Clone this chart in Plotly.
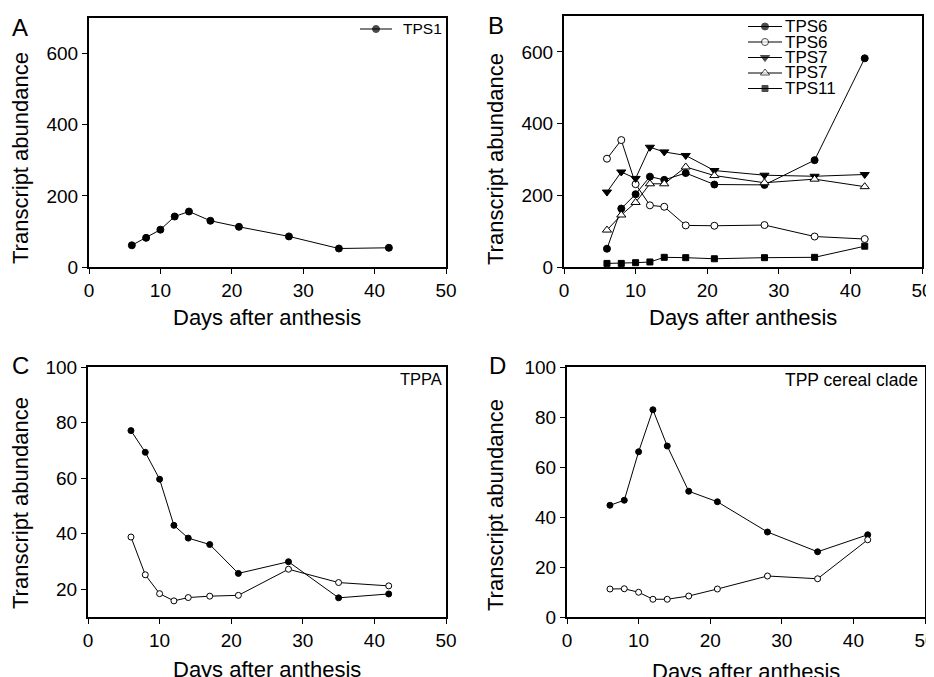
import plotly.graph_objects as go

W, H = 934, 677          # browser window
PAGE_OFFSET = 8          # the page's default body margin
FW, FH = W - PAGE_OFFSET, H - PAGE_OFFSET
FONT = 'Liberation Sans, Arial, sans-serif'

# ── Data ──────────────────────────────────────────────────────────────────────
DAYS = [6, 8, 10, 12, 14, 17, 21, 28, 35, 42]

TPS1        = [61, 82, 105, 142, 156, 130, 113, 86, 52, 54]
TPS6_FILLED = [51, 163, 203, 252, 243, 262, 230, 229, 298, 582]
TPS6_OPEN   = [302, 354, 231, 172, 168, 116, 115, 117, 85, 78]
TPS7_FILLED = [209, 265, 247, 334, 321, 311, 269, 256, 253, 258]
TPS7_OPEN   = [103, 145, 180, 232, 232, 279, 255, 235, 245, 224]
TPS11       = [10, 10, 12, 14, 27, 26, 23, 26, 27, 58]

TPPA_FILLED = [77.1, 69.3, 59.6, 43.0, 38.4, 36.1, 25.7, 29.9, 16.9, 18.3]
TPPA_OPEN   = [38.8, 25.2, 18.4, 15.8, 17.0, 17.5, 17.8, 27.2, 22.4, 21.2]

CEREAL_FILLED = [44.7, 46.7, 66.1, 82.9, 68.4, 50.3, 46.1, 34.0, 26.1, 32.9]
CEREAL_OPEN   = [11.2, 11.3, 9.9, 7.1, 7.1, 8.4, 11.2, 16.4, 15.3, 30.9]

X_TICKS    = [0, 10, 20, 30, 40, 50]
Y_TICKS_AB = [0, 200, 400, 600]
Y_TICKS_C  = [20, 40, 60, 80, 100]
Y_TICKS_D  = [0, 20, 40, 60, 80, 100]

LEGEND_A = ['TPS1']
LEGEND_B = ['TPS6', 'TPS6', 'TPS7', 'TPS7', 'TPS11']

# panel boxes in window pixels: (left, right, top, bottom)
BOXES = {
    'A': (89, 446, 18, 267),
    'B': (564, 922, 16, 267),
    'C': (88, 446, 367, 617),
    'D': (567, 925, 367, 617),
}

# legend sample boxes in window pixels:
# (line left, line right, first row y, row step, text x)
LEG_BOX_A = (360, 392, 29, 16, 402)
LEG_BOX_B = (748, 782, 26.5, 15.5, 784)


def px_x(x):
    return (x - PAGE_OFFSET) / FW


def px_y(y):
    return 1 - (y - PAGE_OFFSET) / FH


def _marker(symbol, filled, size=7):
    return dict(symbol=symbol, size=size,
                color='black' if filled else 'white',
                line=dict(color='black', width=1))


def _trace(y, axis, symbol, filled, size=7):
    return go.Scatter(
        x=DAYS, y=y, mode='lines+markers',
        xaxis='x' + axis, yaxis='y' + axis,
        line=dict(color='black', width=1),
        marker=_marker(symbol, filled, size),
        showlegend=False, hoverinfo='x+y',
    )


def _legend_sample(row, axis, symbol, filled, size):
    """One legend row: short line with the marker in its middle."""
    return go.Scatter(
        x=[0, 1, 2], y=[row] * 3, mode='lines+markers',
        xaxis='x' + axis, yaxis='y' + axis,
        line=dict(color='black', width=1),
        marker=dict(_marker(symbol, filled, size), size=[0, size, 0]),
        cliponaxis=False, showlegend=False, hoverinfo='skip',
    )


def _axes(box, yrange, yticks):
    l, r, t, b = box
    common = dict(showline=True, mirror=True, linecolor='black', linewidth=2,
                  ticks='outside', ticklen=5, tickwidth=1, tickcolor='black',
                  showgrid=False, zeroline=False, automargin=False,
                  ticklabeloverflow='allow',
                  tickfont=dict(family=FONT, size=19, color='black'))
    xa = dict(common, domain=[px_x(l), px_x(r)], range=[0, 50],
              tickvals=X_TICKS)
    ya = dict(common, domain=[px_y(b), px_y(t)], range=yrange,
              tickvals=yticks)
    return xa, ya


def _legend_axes(leg_box, n_rows):
    l, r, y0, step, _ = leg_box
    hidden = dict(visible=False, fixedrange=True, showgrid=False, zeroline=False)
    xa = dict(hidden, domain=[px_x(l), px_x(r)], range=[0, 2])
    ya = dict(hidden, domain=[px_y(y0 + (n_rows - 0.5) * step),
                              px_y(y0 - 0.5 * step)],
              range=[n_rows - 0.5, -0.5])
    return xa, ya


fig = go.Figure()

# A
fig.add_trace(_trace(TPS1, '', 'circle', True))
# B
fig.add_trace(_trace(TPS6_FILLED, '2', 'circle', True))
fig.add_trace(_trace(TPS6_OPEN, '2', 'circle', False))
fig.add_trace(_trace(TPS7_FILLED, '2', 'triangle-down', True, size=8))
fig.add_trace(_trace(TPS7_OPEN, '2', 'triangle-up', False, size=8))
fig.add_trace(_trace(TPS11, '2', 'square', True, size=6))
# C
fig.add_trace(_trace(TPPA_FILLED, '3', 'circle', True, size=6))
fig.add_trace(_trace(TPPA_OPEN, '3', 'circle', False, size=6))
# D
fig.add_trace(_trace(CEREAL_FILLED, '4', 'circle', True, size=6))
fig.add_trace(_trace(CEREAL_OPEN, '4', 'circle', False, size=6))

# legend samples
fig.add_trace(_legend_sample(0, '5', 'circle', True, 7))
b_styles = [('circle', True, 7), ('circle', False, 7),
            ('triangle-down', True, 8), ('triangle-up', False, 8),
            ('square', True, 6)]
for i, (sym, filled, size) in enumerate(b_styles):
    fig.add_trace(_legend_sample(i, '6', sym, filled, size))

xa1, ya1 = _axes(BOXES['A'], [0, 700], Y_TICKS_AB)
xa2, ya2 = _axes(BOXES['B'], [0, 700], Y_TICKS_AB)
xa3, ya3 = _axes(BOXES['C'], [10, 100], Y_TICKS_C)
xa4, ya4 = _axes(BOXES['D'], [0, 100], Y_TICKS_D)
xa5, ya5 = _legend_axes(LEG_BOX_A, len(LEGEND_A))
xa6, ya6 = _legend_axes(LEG_BOX_B, len(LEGEND_B))
xa1['anchor'], ya1['anchor'] = 'y', 'x'
xa2['anchor'], ya2['anchor'] = 'y2', 'x2'
xa3['anchor'], ya3['anchor'] = 'y3', 'x3'
xa4['anchor'], ya4['anchor'] = 'y4', 'x4'
xa5['anchor'], ya5['anchor'] = 'y5', 'x5'
xa6['anchor'], ya6['anchor'] = 'y6', 'x6'

annotations = []


def _text(x, y, text, size, xanchor='center', yanchor='middle', angle=0):
    annotations.append(dict(
        x=px_x(x), y=px_y(y), xref='paper', yref='paper', text=text,
        showarrow=False, xanchor=xanchor, yanchor=yanchor, textangle=angle,
        font=dict(family=FONT, size=size, color='black'), borderpad=0,
    ))


# panel letters
_text(20, 27, 'A', 24)
_text(496, 26, 'B', 24)
_text(20, 365, 'C', 24)
_text(497, 365, 'D', 24)

# axis titles
for cx in (267, 743):
    _text(cx, 317, 'Days after anthesis', 22)
_text(267, 669, 'Days after anthesis', 22)
_text(746, 671, 'Days after anthesis', 22)
_text(20, 158, 'Transcript abundance', 22, angle=-90)
_text(495, 159, 'Transcript abundance', 22, angle=-90)
_text(20, 503, 'Transcript abundance', 22, angle=-90)
_text(495, 505, 'Transcript abundance', 22, angle=-90)

# legend labels
_text(LEG_BOX_A[4], LEG_BOX_A[2], LEGEND_A[0], 15.5, xanchor='left')
for i, label in enumerate(LEGEND_B):
    _text(LEG_BOX_B[4], LEG_BOX_B[2] + i * LEG_BOX_B[3], label, 17,
          xanchor='left')

# in-panel labels
_text(443, 379, 'TPPA', 16.5, xanchor='right')
_text(919, 380, 'TPP cereal clade', 17.5, xanchor='right')

fig.update_layout(
    width=FW, height=FH,
    margin=dict(l=0, r=0, t=0, b=0, pad=0, autoexpand=False),
    paper_bgcolor='white', plot_bgcolor='white',
    font=dict(family=FONT, color='black'),
    xaxis=xa1, yaxis=ya1, xaxis2=xa2, yaxis2=ya2,
    xaxis3=xa3, yaxis3=ya3, xaxis4=xa4, yaxis4=ya4,
    xaxis5=xa5, yaxis5=ya5, xaxis6=xa6, yaxis6=ya6,
    annotations=annotations,
    showlegend=False,
)

fig.write_html('out.html')
